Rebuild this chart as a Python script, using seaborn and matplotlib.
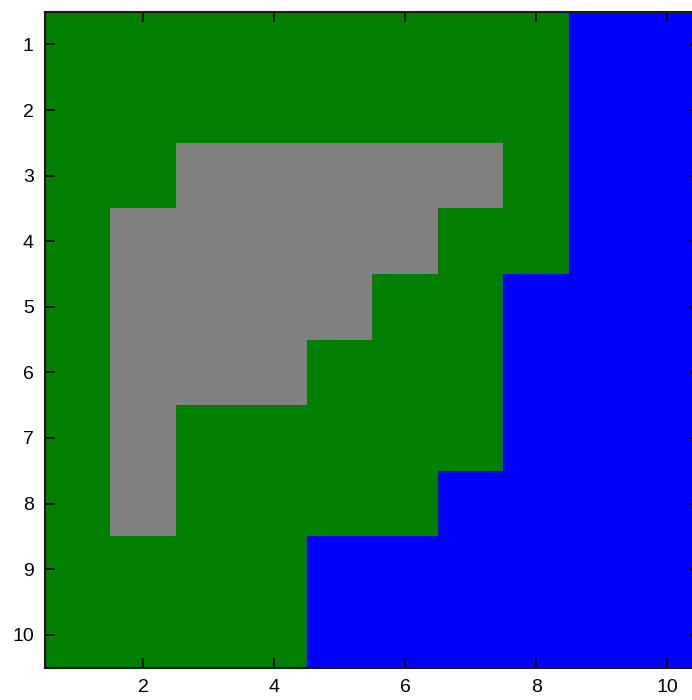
import numpy as np
import seaborn as sns
import matplotlib.pyplot as plt
from matplotlib.colors import ListedColormap

# class codes: 0 = green, 1 = gray, 2 = blue
row_labels = [1, 2, 3, 4, 5, 6, 7, 8, 9, 10]
col_labels = [1, 2, 3, 4, 5, 6, 7, 8, 9, 10]
grid = [
    [0, 0, 0, 0, 0, 0, 0, 0, 2, 2],
    [0, 0, 0, 0, 0, 0, 0, 0, 2, 2],
    [0, 0, 1, 1, 1, 1, 1, 0, 2, 2],
    [0, 1, 1, 1, 1, 1, 0, 0, 2, 2],
    [0, 1, 1, 1, 1, 0, 0, 2, 2, 2],
    [0, 1, 1, 1, 0, 0, 0, 2, 2, 2],
    [0, 1, 0, 0, 0, 0, 0, 2, 2, 2],
    [0, 1, 0, 0, 0, 0, 2, 2, 2, 2],
    [0, 0, 0, 0, 2, 2, 2, 2, 2, 2],
    [0, 0, 0, 0, 2, 2, 2, 2, 2, 2],
]
class_colors = ['#007F00', '#808080', '#0000FF']
xtick_vals = [2, 4, 6, 8, 10]

plt.rcParams['font.family'] = ['Liberation Sans', 'DejaVu Sans']

fig = plt.figure(figsize=(6.92, 7.0), dpi=100)
ax = fig.add_axes([0.065, 0.0464, 0.9465, 0.937])

sns.heatmap(np.array(grid), cmap=ListedColormap(class_colors), vmin=-0.5, vmax=2.5,
            cbar=False, ax=ax, linewidths=0, xticklabels=False, yticklabels=False)

# 刻度放在单元格中心
ax.set_xticks([col_labels.index(v) + 0.5 for v in xtick_vals])
ax.set_xticklabels([str(v) for v in xtick_vals])
ax.set_yticks([i + 0.5 for i in range(len(row_labels))])
ax.set_yticklabels([str(v) for v in row_labels], rotation=0)

ax.tick_params(direction='in', length=7, width=1.2, top=True, right=True,
               labelsize=14, colors='black', pad=8)
for s in ax.spines.values():
    s.set_visible(True)
    s.set_linewidth(1.5)
    s.set_color('#1a1a1a')

plt.savefig('out.png', dpi=100)
plt.close()
